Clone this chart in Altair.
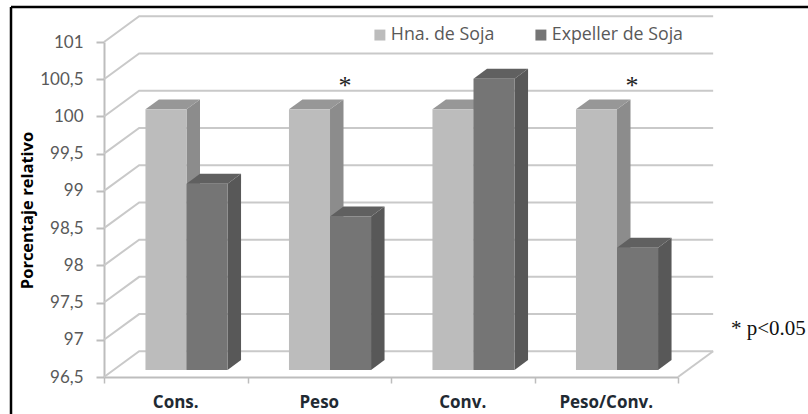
import altair as alt
import pandas as pd

categories = ["Cons.", "Peso", "Conv.", "Peso/Conv."]
series = ["Hna. de Soja", "Expeller de Soja"]
hna_soja = [100, 100, 100, 100]
expeller_soja = [99.0, 98.56, 100.41, 98.14]
levels = [96.5, 97, 97.5, 98, 98.5, 99, 99.5, 100, 100.5, 101]
significant = ["Peso", "Peso/Conv."]

BASE = 96.5
BAR_W = 0.286        # bar width in category units
BAR_START = 0.289    # gap before the first bar of a group
PLANE = 0.095        # bars stand slightly behind the front plane (value units)
DX, DY = 0.094, 0.134        # extrusion of each bar
WALL_DX, WALL_DY = 0.245, 0.345  # depth of the floor and back wall

FRONT = {series[0]: "#bcbcbc", series[1]: "#757575"}
SIDE = {series[0]: "#8c8c8c", series[1]: "#585858"}
TOP = {series[0]: "#979797", series[1]: "#606060"}
GRID = "#c9c9c9"

x_scale = alt.Scale(domain=[0, 4], nice=False, zero=False)
y_scale = alt.Scale(domain=[96.5, 101], nice=False, zero=False)

# Every layer carries the same axis definition so that Vega-Lite merges them into one
x_axis = alt.Axis(values=[0, 1, 2, 3, 4], labels=False, title=None, grid=False,
                  domainColor="#bdbdbd", domainWidth=2, tickColor="#bdbdbd",
                  tickWidth=1.5, tickSize=6)
y_axis = alt.Axis(values=levels, grid=False, title="Porcentaje relativo",
                  labelExpr="datum.value % 1 ? floor(datum.value) + ',5' : '' + datum.value",
                  labelFont="Lato", labelFontSize=17, labelColor="#595959",
                  labelPadding=13, labelOverlap=False,
                  domainColor="#bdbdbd", domainWidth=2, tickColor="#bdbdbd",
                  tickWidth=2, tickSize=8,
                  titleFont="Open Sans", titleFontSize=16.5, titleFontWeight="bold",
                  titleColor="#000000", titleX=-69, titleY=168)
enc_x = alt.X("x:Q", scale=x_scale, axis=x_axis)
enc_y = alt.Y("y:Q", scale=y_scale, axis=y_axis)

# Wall gridlines: a diagonal on the left wall, then across the back wall
grid_rows = []
for lv in levels:
    grid_rows += [
        {"level": lv, "x": 0, "y": lv},
        {"level": lv, "x": WALL_DX, "y": lv + WALL_DY},
        {"level": lv, "x": 4 + WALL_DX, "y": lv + WALL_DY},
    ]
grid = alt.Chart(pd.DataFrame(grid_rows)).mark_line(color=GRID, strokeWidth=2, clip=False).encode(
    x=enc_x, y=enc_y, detail="level:N")

# Right edge of the floor
floor_edge = alt.Chart(pd.DataFrame({"x": [4, 4 + WALL_DX], "y": [BASE, BASE + WALL_DY]})).mark_line(
    color=GRID, strokeWidth=2, clip=False
).encode(x=enc_x, y=enc_y)

# Bars: a front rectangle plus two extruded faces
front_rows, side_rows, top_rows = [], [], []
for s_idx, (name, values) in enumerate(zip(series, [hna_soja, expeller_soja])):
    for c_idx, (cat, v) in enumerate(zip(categories, values)):
        left = c_idx + BAR_START + s_idx * BAR_W
        right = left + BAR_W
        top, base = v + PLANE, BASE + PLANE
        bar = f"{cat}-{s_idx}"
        front_rows.append({"series": name, "x": left, "x2": right, "y": top, "y2": base})
        side_rows += [
            {"series": name, "bar": bar, "x": right, "y": top, "y2": base},
            {"series": name, "bar": bar, "x": right + DX, "y": top + DY, "y2": base + DY},
        ]
        top_rows += [
            {"series": name, "bar": bar, "x": left, "y": top, "y2": top},
            {"series": name, "bar": bar, "x": left + DX, "y": top + DY, "y2": top},
            {"series": name, "bar": bar, "x": right, "y": top + DY, "y2": top},
            {"series": name, "bar": bar, "x": right + DX, "y": top + DY, "y2": top + DY},
        ]
front_df, side_df, top_df = pd.DataFrame(front_rows), pd.DataFrame(side_rows), pd.DataFrame(top_rows)

legend = alt.Legend(orient="none", legendX=267, legendY=-16, direction="horizontal",
                    title=None, symbolType="square", symbolSize=120, symbolStrokeWidth=0,
                    labelFont="Open Sans", labelFontSize=17.8, labelColor="#595959",
                    labelOffset=2, columnPadding=37, columns=2)
color = alt.Color("series:N", scale=alt.Scale(domain=series, range=[FRONT[s] for s in series]), legend=legend)


def bar_layers(name):
    side = alt.Chart(side_df[side_df.series == name]).mark_area(color=SIDE[name], clip=False).encode(
        x=enc_x, y=enc_y, y2="y2:Q", detail="bar:N")
    roof = alt.Chart(top_df[top_df.series == name]).mark_area(color=TOP[name], clip=False).encode(
        x=enc_x, y=enc_y, y2="y2:Q", detail="bar:N")
    face = alt.Chart(front_df[front_df.series == name]).mark_rect(clip=False).encode(
        x=enc_x, x2="x2:Q", y=enc_y, y2="y2:Q", color=color)
    return [side, roof, face]


# Category names under the ticks
cat_df = pd.DataFrame({"x": [i + 0.5 for i in range(4)], "label": categories})
cat_text = alt.Chart(cat_df).mark_text(
    font="Open Sans", fontSize=17, fontWeight="bold", color="#1f2a33", baseline="middle"
).encode(x=enc_x, y=alt.value(361), text="label:N")

# Significance marks above the bars
star_df = pd.DataFrame({"x": [categories.index(c) + 0.68 for c in significant], "y": [100.41] * 2})
stars = alt.Chart(star_df).mark_text(
    text="*", font="Liberation Serif", fontSize=26, color="#222222", baseline="middle"
).encode(x=enc_x, y=enc_y)

note = alt.Chart(pd.DataFrame({"t": ["* p<0.05"]})).mark_text(
    font="Liberation Serif", fontSize=21, color="#111111", align="left", baseline="alphabetic"
).encode(x=alt.value(627), y=alt.value(293), text="t:N")

# Box round the figure: only its left and top edges reach the canvas
box_left = alt.Chart(pd.DataFrame({"k": [0]})).mark_rule(color="#000000", strokeWidth=2.5).encode(
    x=alt.value(-93), y=alt.value(-35), y2=alt.value(372))
box_top = alt.Chart(pd.DataFrame({"k": [0]})).mark_rule(color="#000000", strokeWidth=2.5).encode(
    x=alt.value(-93), x2=alt.value(704), y=alt.value(-35))

chart = alt.layer(
    grid, floor_edge,
    *bar_layers(series[0]),
    *bar_layers(series[1]),
    cat_text, stars, note, box_left, box_top,
).properties(
    width=574, height=335,
    padding={"left": 104, "top": 42, "right": 130, "bottom": 37},
    autosize=alt.AutoSizeParams(type="none"),
    background="#ffffff",
).configure_view(stroke=None)

chart.save("out.html", embed_options={"renderer": "svg", "actions": False})
